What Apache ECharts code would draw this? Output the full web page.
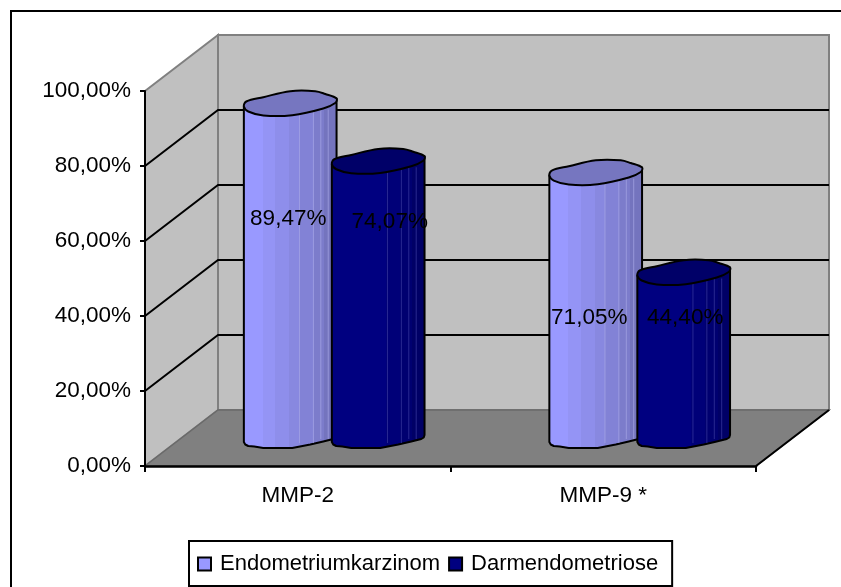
<!DOCTYPE html>
<html><head><meta charset="utf-8">
<style>html,body{margin:0;padding:0;background:#fff}#c{width:841px;height:587px}</style>
<script src="https://cdn.jsdelivr.net/npm/echarts@6/dist/echarts.min.js"></script>
</head><body><div id="c"></div>
<script>
const categories = ['MMP-2', 'MMP-9 *'];
const endometriumkarzinom = [89.47, 71.05];
const darmendometriose = [74.07, 44.40];
const endoLabels = ['89,47%', '71,05%'];
const darmLabels = ['74,07%', '44,40%'];
const yTicks = [20, 40, 60, 80];

const FONT = '"Liberation Sans", Arial, sans-serif';
const FS = 22.5;
const DX = 73, DY = -56;           // oblique depth of the 3D box
const CX = 36.5, CY = -27;         // cylinders stand mid-depth
const capPts = [[-46.4,3],[-44,-2],[-27,-6.3],[0,-12.3],[25,-12.3],[35,-9.5],[46.3,-5],[45,-0.5],[33,5],[2,11.7],[-27,12],[-42,8]];
const basePts = [[-46.4,3],[-45,5.5],[-42,7],[-36,7.5],[-27,9],[2,9],[20,5.5],[33,2.5],[43,0],[45.5,-1.5],[46.3,-4]];

function steps(cols){
  const st=[]; cols.forEach(c=>{st.push({offset:c[0],color:c[2]});st.push({offset:c[1],color:c[2]});});
  return new echarts.graphic.LinearGradient(0,0,1,0,st);
}
const lightStyle = {
  grad:[[0,.21,'#9999FF'],[.21,.34,'#9494F5'],[.34,.49,'#8E8EEB'],[.49,.6,'#8888E0'],[.6,.75,'#8282D6'],[.75,.86,'#7C7CCB'],[.86,1,'#7474BE']],
  cap:'#7676C0', rib:'#A6A6E6', legend:'#9999FF'
};
const darkStyle = {
  grad:[[0,.58,'#000080'],[.58,.73,'#000078'],[.73,.86,'#000070'],[.86,1,'#000066']],
  cap:'#000068', rib:'#3A3AA0', legend:'#000080'
};

function cylinder(style, shift, labels, nudges){
  return function(params, api){
    const i = api.value(0), v = api.value(1);
    const p = api.coord([i, v]), z = api.coord([i, 0]);
    const band = api.size([1,0])[0];
    const cx = p[0] + CX + band*shift, top = p[1] + CY, bot = z[1] + CY;
    const body = [];
    body.push([cx-46.4, top+3]);
    basePts.forEach(q=>body.push([cx+q[0], bot+q[1]]));
    body.push([cx+46.3, top-5]);
    const kids = [
      {type:'polygon', shape:{points:body}, style:{fill:steps(style.grad), stroke:'#000', lineWidth:2, lineJoin:'round'}}
    ];
    [.6,.75,.83,.91].forEach(f=>{
      const x = cx-46.4+92.7*f;
      kids.push({type:'line', shape:{x1:x,y1:top+6,x2:x,y2:bot+(f<.8?4:0)}, style:{stroke:style.rib,lineWidth:1,opacity:.7}});
    });
    kids.push({type:'polygon', shape:{points:capPts.map(q=>[cx+q[0],top+q[1]]),smooth:0.35}, style:{fill:style.cap, stroke:'#000', lineWidth:2, lineJoin:'round'}});
    const n = nudges[i];
    kids.push({type:'text', style:{text:labels[i], x:cx+n[0], y:top+n[1], fill:'#000', font:FS+'px '+FONT, textAlign:'center', textVerticalAlign:'middle'}});
    return {type:'group', children:kids};
  };
}

function scene(params, api){
  const cs = params.coordSys;
  const L=cs.x, R=cs.x+cs.width, B=cs.y+cs.height, T=cs.y;
  const grey='#808080', wall='#C0C0C0';
  const kids=[
    {type:'polygon',shape:{points:[[L+DX,T+DY],[R+DX,T+DY],[R+DX,B+DY],[L+DX,B+DY]]},style:{fill:wall,stroke:grey,lineWidth:2}},
    {type:'polygon',shape:{points:[[L,T],[L+DX,T+DY],[L+DX,B+DY],[L,B]]},style:{fill:wall,stroke:grey,lineWidth:2}},
    {type:'polygon',shape:{points:[[L,B],[L+DX,B+DY],[R+DX,B+DY],[R,B]]},style:{fill:grey,stroke:'#6A6A6A',lineWidth:1.5}}
  ];
  yTicks.forEach(t=>{
    const y=api.coord([0,t])[1];
    kids.push({type:'polyline',shape:{points:[[L,y],[L+DX,y+DY],[R+DX,y+DY]]},style:{fill:'none',stroke:'#000',lineWidth:2}});
  });
  kids.push({type:'line',shape:{x1:R,y1:B,x2:R+DX,y2:B+DY},style:{stroke:'#000',lineWidth:2}});
  return {type:'group',children:kids};
}

const chart = echarts.init(document.getElementById('c'), null, {renderer:'canvas'});
chart.setOption({
  animation:false,
  backgroundColor:'#fff',
  textStyle:{fontFamily:FONT},
  graphic:[{type:'rect',z:-1,shape:{x:11,y:11,width:900,height:900},style:{fill:'none',stroke:'#000',lineWidth:2}}],
  grid:{left:145,top:91,width:611,height:375,containLabel:false},
  xAxis:{type:'category',data:categories,z:5,
    axisLine:{lineStyle:{color:'#000',width:2.5}},
    axisTick:{show:true,length:6,lineStyle:{color:'#000',width:2},alignWithLabel:false},
    axisLabel:{color:'#000',fontSize:FS,fontFamily:FONT,margin:18},
    splitLine:{show:false}},
  yAxis:{type:'value',min:0,max:100,interval:20,z:5,
    axisLine:{show:true,lineStyle:{color:'#000',width:2}},
    axisTick:{show:true,length:5,lineStyle:{color:'#000',width:2}},
    axisLabel:{color:'#000',fontSize:FS,fontFamily:FONT,margin:14,padding:[5,0,0,0],formatter:v=>v.toFixed(2).replace('.',',')+'%'},
    splitLine:{show:false}},
  legend:{
    left:189,top:541,orient:'horizontal',
    data:['Endometriumkarzinom','Darmendometriose'],
    backgroundColor:'#fff',borderColor:'#000',borderWidth:2,borderRadius:0,
    padding:[12,14,11,8],itemGap:8,itemWidth:13,itemHeight:13,icon:'rect',
    textStyle:{color:'#000',fontSize:22,fontFamily:FONT,padding:[0,0,0,4]},
    selectedMode:false
  },
  series:[
    {type:'custom',name:'scene',z:1,silent:true,clip:false,renderItem:scene,data:[[0,0]],encode:{x:0,y:1}},
    {type:'custom',name:'Endometriumkarzinom',z:2,clip:false,
      itemStyle:{color:lightStyle.legend,borderColor:'#000',borderWidth:2},
      renderItem:cylinder(lightStyle,-0.144,endoLabels,[[-2,115],[-6.5,145]]),
      data:endometriumkarzinom.map((v,i)=>[i,v]),encode:{x:0,y:1}},
    {type:'custom',name:'Darmendometriose',z:3,clip:false,
      itemStyle:{color:darkStyle.legend,borderColor:'#000',borderWidth:2},
      renderItem:cylinder(darkStyle,0.144,darmLabels,[[11.5,61],[1.5,45]]),
      data:darmendometriose.map((v,i)=>[i,v]),encode:{x:0,y:1}}
  ]
});
</script></body></html>
